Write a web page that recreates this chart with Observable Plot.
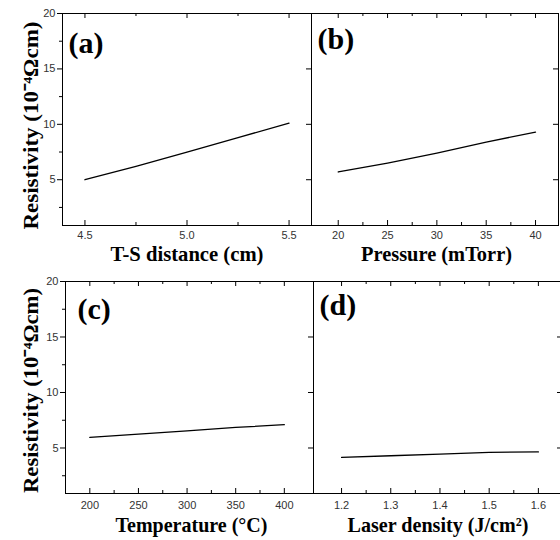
<!DOCTYPE html>
<html><head><meta charset="utf-8">
<script src="https://cdn.jsdelivr.net/npm/d3@7"></script>
<script src="https://cdn.jsdelivr.net/npm/@observablehq/plot@0.6"></script>
<style>
html,body{margin:0;padding:0;background:#fff;overflow:hidden}
#fig{position:relative;width:560px;height:540px;overflow:hidden;background:#fff}
#fig > svg{position:absolute;overflow:visible}
</style></head><body><div id="fig"></div>
<script>
// ---- data ----
const yLabel = "Resistivity (10⁻⁴Ωcm)";
const yTicks = [5, 10, 15, 20];
const yMinor = [2.5, 7.5, 12.5, 17.5];

const aLabel = "T-S distance (cm)";
const aX = [4.5, 4.75, 5.0, 5.25, 5.5];
const aY = [5.0, 6.2, 7.5, 8.8, 10.1];
const aTicks = [4.5, 5.0, 5.5];
const aMinor = [4.75, 5.25];

const bLabel = "Pressure (mTorr)";
const bX = [20, 25, 30, 35, 40];
const bY = [5.7, 6.5, 7.4, 8.4, 9.3];
const bTicks = [20, 25, 30, 35, 40];
const bMinor = [22.5, 27.5, 32.5, 37.5];

const cLabel = "Temperature (°C)";
const cX = [200, 250, 300, 350, 400];
const cY = [5.95, 6.25, 6.55, 6.85, 7.1];
const cTicks = [200, 250, 300, 350, 400];
const cMinor = [225, 275, 325, 375];

const dLabel = "Laser density (J/cm²)";
const dX = [1.2, 1.3, 1.4, 1.5, 1.6];
const dY = [4.15, 4.3, 4.45, 4.6, 4.65];
const dTicks = [1.2, 1.3, 1.4, 1.5, 1.6];
const dMinor = [1.25, 1.35, 1.45, 1.55];

const serif = "'Liberation Serif', 'Times New Roman', serif";
const sans = "'Liberation Sans', Arial, sans-serif";

function fit(svg, cls, len) {
  const t = svg.querySelector("." + cls + " text");
  if (t) { t.setAttribute("textLength", len); t.setAttribute("lengthAdjust", "spacingAndGlyphs"); }
}

function panel(o) {
  const data = o.x.map((v, i) => ({x: v, y: o.y[i]}));
  const ih = o.height - o.mT - o.mB;
  const iw = o.width - o.mL - o.mR;
  const tk = {stroke: "#000", strokeWidth: 1};
  const marks = [
    Plot.frame({stroke: "#000", strokeWidth: 1}),
    Plot.axisX(o.ticks, {anchor: "bottom", tickSize: 0, tickPadding: o.tickPad, tickFormat: o.fmt, fontSize: 11, fontFamily: sans, fill: "#333", label: null}),
    // inward ticks, bottom and top
    Plot.tickX(o.ticks, {x: d => d, insetTop: ih - 5, ...tk}),
    Plot.tickX(o.minor, {x: d => d, insetTop: ih - 3, ...tk}),
    Plot.tickX(o.ticks, {x: d => d, insetBottom: ih - 5, ...tk}),
    Plot.tickX(o.minor, {x: d => d, insetBottom: ih - 3, ...tk}),
    // inward ticks, right side
    Plot.tickY(yTicks, {y: d => d, insetLeft: iw - 5, ...tk}),
    Plot.line(data, {x: "x", y: "y", stroke: "#000", strokeWidth: 1.3}),
    Plot.text([o.letter], {frameAnchor: "top-left", dx: o.ldx, dy: o.ldy, textAnchor: "start", lineAnchor: "top", fontSize: 30, fontWeight: "bold", fontFamily: serif, fill: "#000"}),
    Plot.text([o.xLabel], {className: "xlab", frameAnchor: "bottom", dx: o.xldx, dy: o.xldy, lineAnchor: "top", fontSize: 21, fontWeight: "bold", fontFamily: serif, fill: "#000"})
  ];
  if (o.showY) {
    marks.push(
      Plot.axisY(yTicks, {anchor: "left", tickSize: 5, tickPadding: 2, fontSize: 11, fontFamily: sans, fill: "#333", label: null, stroke: "#000"}),
      Plot.axisY(yMinor, {anchor: "left", tickSize: 3, text: null, label: null, stroke: "#000"}),
      Plot.text([yLabel], {className: "ylab", frameAnchor: "left", rotate: -90, dx: o.yldx, dy: o.yldy, textAnchor: "middle", lineAnchor: "middle", fontSize: 22, fontWeight: "bold", fontFamily: serif, fill: "#000"})
    );
  }
  const svg = Plot.plot({
    width: o.width, height: o.height,
    marginLeft: o.mL, marginRight: o.mR, marginTop: o.mT, marginBottom: o.mB,
    x: {domain: o.xDomain, label: null},
    y: {domain: o.yDomain, label: null, axis: o.showY ? undefined : null},
    style: {background: "transparent", overflow: "visible"},
    marks
  });
  fit(svg, "xlab", o.xlen);
  if (o.showY) fit(svg, "ylab", o.ylen);
  svg.style.left = o.left + "px";
  svg.style.top = o.top + "px";
  document.getElementById("fig").appendChild(svg);
}

panel({x: aX, y: aY, ticks: aTicks, minor: aMinor, fmt: d3.format(".1f"), letter: "(a)", xLabel: aLabel,
  xDomain: [4.39, 5.61], yDomain: [0.87, 20], showY: true,
  left: 0, top: 0, width: 312, height: 270, mL: 62, mR: 1, mT: 13, mB: 45,
  tickPad: 6, ldx: 6, ldy: 18, xldx: 0, xldy: 21, xlen: 153, yldx: -32, yldy: 6, ylen: 208});

panel({x: bX, y: bY, ticks: bTicks, minor: bMinor, fmt: d3.format("d"), letter: "(b)", xLabel: bLabel,
  xDomain: [17.29, 42.33], yDomain: [0.87, 20], showY: false,
  left: 310, top: 0, width: 250, height: 270, mL: 1, mR: 2, mT: 13, mB: 45,
  tickPad: 6, ldx: 6, ldy: 14, xldx: 1.5, xldy: 21, xlen: 151});

panel({x: cX, y: cY, ticks: cTicks, minor: cMinor, fmt: d3.format("d"), letter: "(c)", xLabel: cLabel,
  xDomain: [175, 430], yDomain: [0.9, 20], showY: true,
  left: 0, top: 270, width: 314, height: 270, mL: 65, mR: 1, mT: 11, mB: 47,
  tickPad: 8, ldx: 12, ldy: 16, xldx: 2, xldy: 24, xlen: 152, yldx: -35, yldy: 3, ylen: 205});

panel({x: dX, y: dY, ticks: dTicks, minor: dMinor, fmt: d3.format(".1f"), letter: "(d)", xLabel: dLabel,
  xDomain: [1.143, 1.649], yDomain: [0.9, 20], showY: false,
  left: 312, top: 270, width: 252, height: 270, mL: 1, mR: 2, mT: 11, mB: 47,
  tickPad: 8, ldx: 6, ldy: 12, xldx: 0, xldy: 24, xlen: 181});
</script>
</body></html>
